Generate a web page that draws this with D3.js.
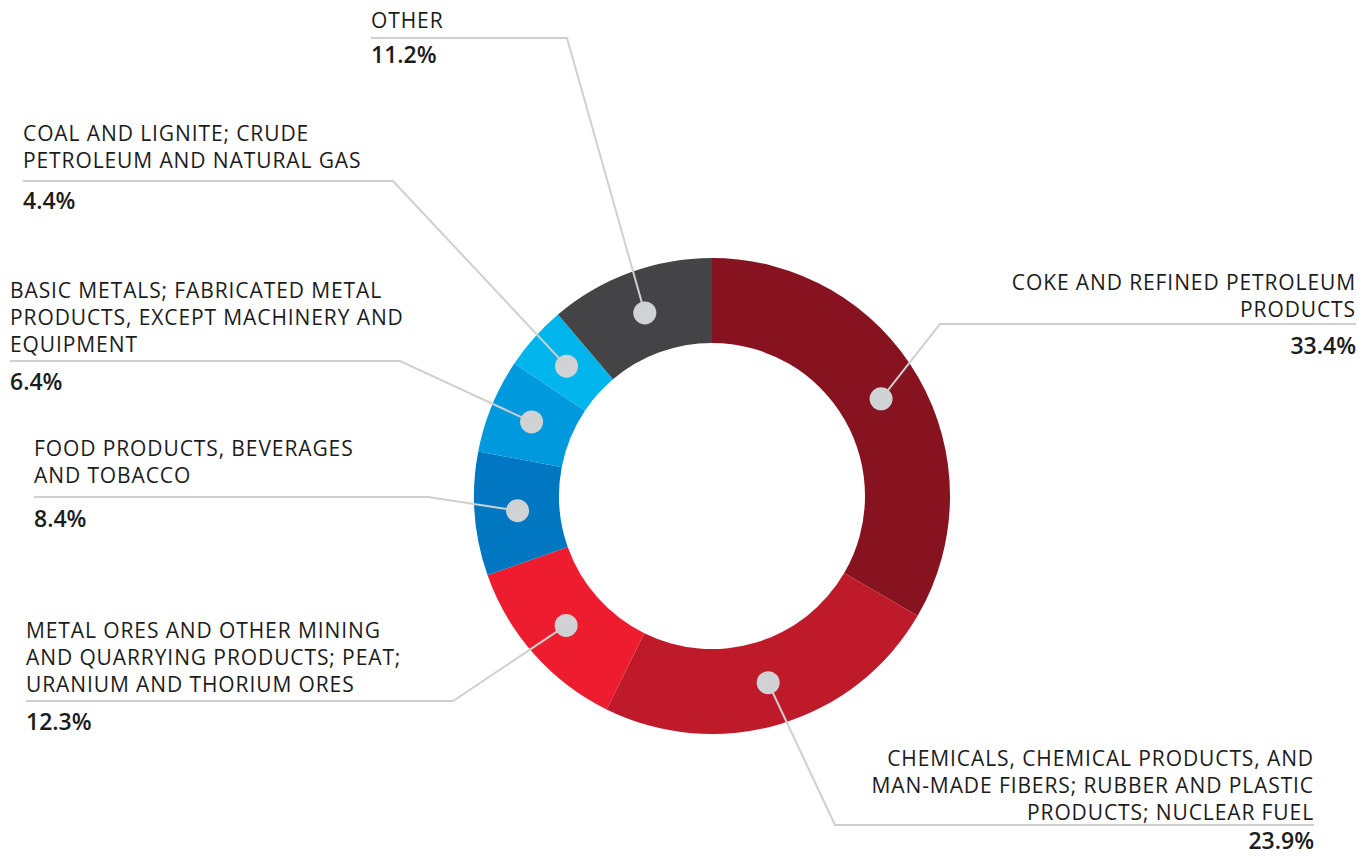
<!DOCTYPE html>
<html>
<head>
<meta charset="utf-8">
<script src="https://cdn.jsdelivr.net/npm/d3@7"></script>
<style>
  body { margin: 0; background: #fff; }
  text { font-family: "Open Sans", "Noto Sans", sans-serif; fill: #1c1c1c; }
  .name { font-size: 21px; letter-spacing: 0.9px; }
  .pct { font-size: 23px; font-weight: 600; }
</style>
</head>
<body>
<svg id="myGraph" width="1372" height="856"></svg>
<script>
// data
var categories = [
  "COKE AND REFINED PETROLEUM PRODUCTS",
  "CHEMICALS, CHEMICAL PRODUCTS, AND MAN-MADE FIBERS; RUBBER AND PLASTIC PRODUCTS; NUCLEAR FUEL",
  "METAL ORES AND OTHER MINING AND QUARRYING PRODUCTS; PEAT; URANIUM AND THORIUM ORES",
  "FOOD PRODUCTS, BEVERAGES AND TOBACCO",
  "BASIC METALS; FABRICATED METAL PRODUCTS, EXCEPT MACHINERY AND EQUIPMENT",
  "COAL AND LIGNITE; CRUDE PETROLEUM AND NATURAL GAS",
  "OTHER"
];
var values = [33.4, 23.9, 12.3, 8.4, 6.4, 4.4, 11.2];
var labelLines = [
  ["COKE AND REFINED PETROLEUM", "PRODUCTS"],
  ["CHEMICALS, CHEMICAL PRODUCTS, AND", "MAN-MADE FIBERS; RUBBER AND PLASTIC", "PRODUCTS; NUCLEAR FUEL"],
  ["METAL ORES AND OTHER MINING", "AND QUARRYING PRODUCTS; PEAT;", "URANIUM AND THORIUM ORES"],
  ["FOOD PRODUCTS, BEVERAGES", "AND TOBACCO"],
  ["BASIC METALS; FABRICATED METAL", "PRODUCTS, EXCEPT MACHINERY AND", "EQUIPMENT"],
  ["COAL AND LIGNITE; CRUDE", "PETROLEUM AND NATURAL GAS"],
  ["OTHER"]
];
var colors = ["#86131f", "#be1a2a", "#ed1c2f", "#0077c0", "#0099dd", "#00b4ec", "#444446"];

// label placement (text edge, leader elbow, rule y, gap above rule, value offset)
var layout = [
  { anchor: "end",   x: 1356, elbowX: 940, lineY: 324, gap: 7,  vOff: 30 },
  { anchor: "end",   x: 1314, elbowX: 835, lineY: 825, gap: 5,  vOff: 24 },
  { anchor: "start", x: 26,   elbowX: 453, lineY: 701, gap: 9,  vOff: 29 },
  { anchor: "start", x: 34,   elbowX: 428, lineY: 497, gap: 14, vOff: 30 },
  { anchor: "start", x: 10,   elbowX: 400, lineY: 361, gap: 9,  vOff: 29 },
  { anchor: "start", x: 23,   elbowX: 393, lineY: 181, gap: 13, vOff: 28 },
  { anchor: "start", x: 371,  elbowX: 567, lineY: 38,  gap: 10, vOff: 25 }
];

var cx = 712, cy = 496;
var outerR = 238, innerR = 153;
var lineH = 26.8;

var svg = d3.select("#myGraph");
var g = svg.append("g").attr("transform", "translate(" + cx + "," + cy + ")");

var pie = d3.pie().sort(null).value(function (d) { return d; });
var arcs = pie(values);
var arc = d3.arc().innerRadius(innerR).outerRadius(outerR);
var midArc = d3.arc().innerRadius(195).outerRadius(195);

g.selectAll("path.slice")
  .data(arcs)
  .enter()
  .append("path")
  .attr("class", "slice")
  .attr("d", arc)
  .attr("fill", function (d, i) { return colors[i]; });

// leader lines
svg.selectAll("polyline.leader")
  .data(arcs)
  .enter()
  .append("polyline")
  .attr("class", "leader")
  .attr("fill", "none")
  .attr("stroke", "#d0d0d0")
  .attr("stroke-width", 2)
  .attr("points", function (d, i) {
    var c = midArc.centroid(d);
    var L = layout[i];
    return [[cx + c[0], cy + c[1]], [L.elbowX, L.lineY], [L.x, L.lineY]].join(" ");
  });

// dots
g.selectAll("circle.dot")
  .data(arcs)
  .enter()
  .append("circle")
  .attr("class", "dot")
  .attr("r", 11.5)
  .attr("cx", function (d) { return midArc.centroid(d)[0]; })
  .attr("cy", function (d) { return midArc.centroid(d)[1]; })
  .attr("fill", "#d1d2d4");

// labels
labelLines.forEach(function (lines, i) {
  var L = layout[i];
  var lastY = L.lineY - L.gap;
  var t = svg.append("text")
    .attr("class", "name")
    .attr("text-anchor", L.anchor);
  lines.forEach(function (s, k) {
    t.append("tspan")
      .attr("x", L.x)
      .attr("y", lastY - (lines.length - 1 - k) * lineH)
      .text(s);
  });
  svg.append("text")
    .attr("class", "pct")
    .attr("text-anchor", L.anchor)
    .attr("x", L.x)
    .attr("y", L.lineY + L.vOff)
    .text(values[i].toFixed(1) + "%");
});
</script>
</body>
</html>
